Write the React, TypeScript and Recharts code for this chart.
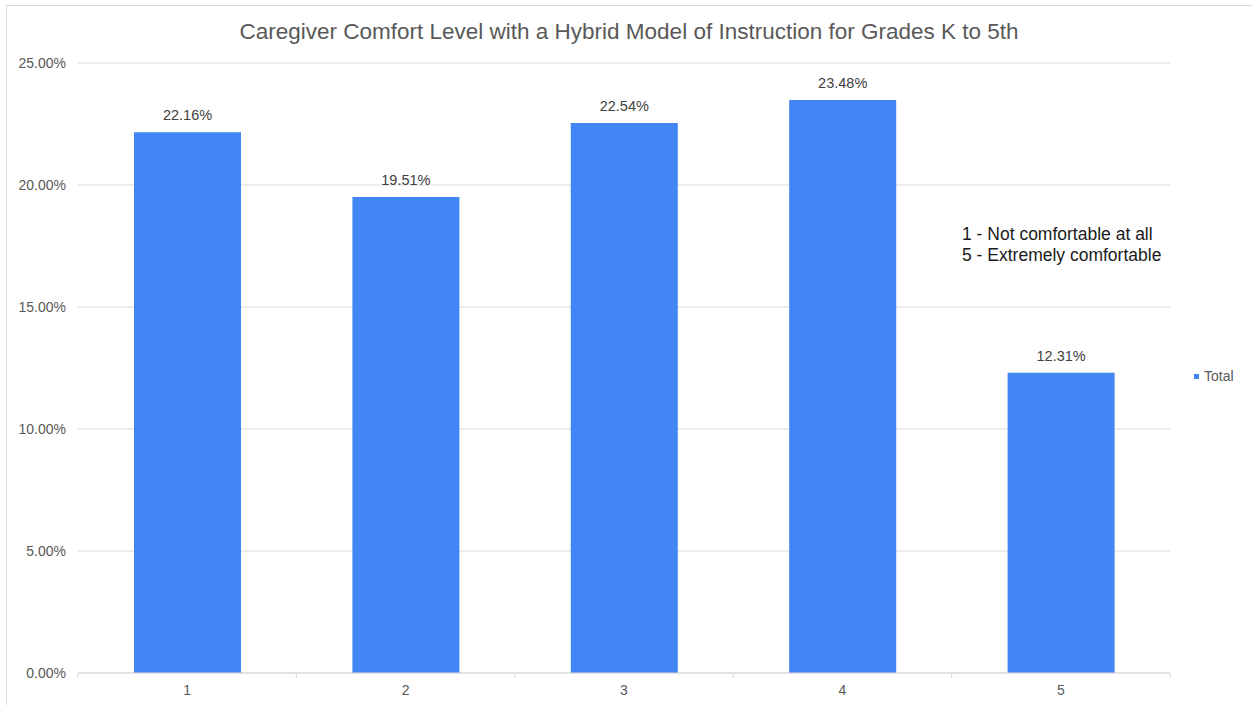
import React from 'react';
import { BarChart, Bar, XAxis, YAxis, CartesianGrid, Legend, LabelList } from 'recharts';

const categories = ['1', '2', '3', '4', '5'];
const totals = [0.2216, 0.1951, 0.2254, 0.2348, 0.1231];
const yTicks = [0, 0.05, 0.1, 0.15, 0.2, 0.25];
const titleText = 'Caregiver Comfort Level with a Hybrid Model of Instruction for Grades K to 5th';
const noteLines = ['1 - Not comfortable at all', '5 - Extremely comfortable'];
const seriesName = 'Total';

const data = categories.map((c, i) => ({ level: c, Total: totals[i] }));

const FONT = '"Liberation Sans", Arial, sans-serif';
const BLUE = '#4285F4';
const GRID = '#d9d9d9';

const pct = (v: number) => (v * 100).toFixed(2) + '%';

const XTick = (props: any) => {
  const { x, y, payload, index, visibleTicksCount } = props;
  const half = payload && payload.offset != null ? payload.offset : 0;
  const last = index === (visibleTicksCount ?? categories.length) - 1;
  return (
    <g>
      <line x1={x - half} x2={x - half} y1={y} y2={y + 5} stroke={GRID} />
      {last && <line x1={x + half} x2={x + half} y1={y} y2={y + 5} stroke={GRID} />}
      <text x={x} y={y + 22} textAnchor="middle" fontSize={14} fill="#595959" fontFamily={FONT}>
        {payload.value}
      </text>
    </g>
  );
};

const LegendContent = (props: any) => {
  const items = props.payload || [];
  return (
    <div style={{ fontFamily: FONT, fontSize: 14, color: '#595959' }}>
      {items.map((it: any) => (
        <div key={it.value} style={{ display: 'flex', alignItems: 'center' }}>
          <span style={{ display: 'inline-block', width: 5, height: 5, background: it.color, marginRight: 5 }} />
          <span>{it.value}</span>
        </div>
      ))}
    </div>
  );
};

export default function App() {
  return (
    <div style={{ position: 'absolute', left: 0, top: 0, width: 1252, height: 705, overflow: 'hidden', background: '#fff', fontFamily: FONT }}>
      <div style={{ position: 'absolute', left: 6, top: 5, width: 1400, height: 900, borderTop: `1px solid ${GRID}`, borderLeft: `1px solid ${GRID}` }} />
      <BarChart width={1252} height={705} data={data} margin={{ top: 63, right: 82, bottom: 7, left: 8 }}>
        <CartesianGrid vertical={false} stroke={GRID} />
        <XAxis
          dataKey="level"
          height={25}
          tickSize={0}
          tickMargin={0}
          axisLine={{ stroke: GRID }}
          tickLine={false}
          tick={<XTick />}
          interval={0}
        />
        <YAxis
          width={70}
          domain={[0, 0.25]}
          ticks={yTicks}
          tickFormatter={pct}
          axisLine={false}
          tickLine={false}
          tickSize={0}
          tickMargin={12}
          tick={{ fontSize: 14, fill: '#595959', fontFamily: FONT }}
        />
        <Legend
          layout="horizontal"
          verticalAlign="middle"
          align="center"
          wrapperStyle={{ left: 1194, top: 368, width: 60, height: 20 }}
          content={<LegendContent />}
        />
        <Bar dataKey="Total" name={seriesName} fill={BLUE} barSize={107} isAnimationActive={false}>
          <LabelList dataKey="Total" position="top" offset={12} formatter={(v: any) => pct(Number(v))} style={{ fontSize: 14.5, fill: '#404040', fontFamily: FONT }} />
        </Bar>
      </BarChart>
      <svg width={1252} height={705} style={{ position: 'absolute', left: 0, top: 0, pointerEvents: 'none' }}>
        <text x={629} y={38.5} textAnchor="middle" fontSize={22.5} fill="#595959" fontFamily={FONT}>
          {titleText}
        </text>
        {noteLines.map((t, i) => (
          <text key={t} x={962} y={240 + i * 21} fontSize={17.5} fill="#1a1a1a" fontFamily={FONT}>
            {t}
          </text>
        ))}
      </svg>
    </div>
  );
}
